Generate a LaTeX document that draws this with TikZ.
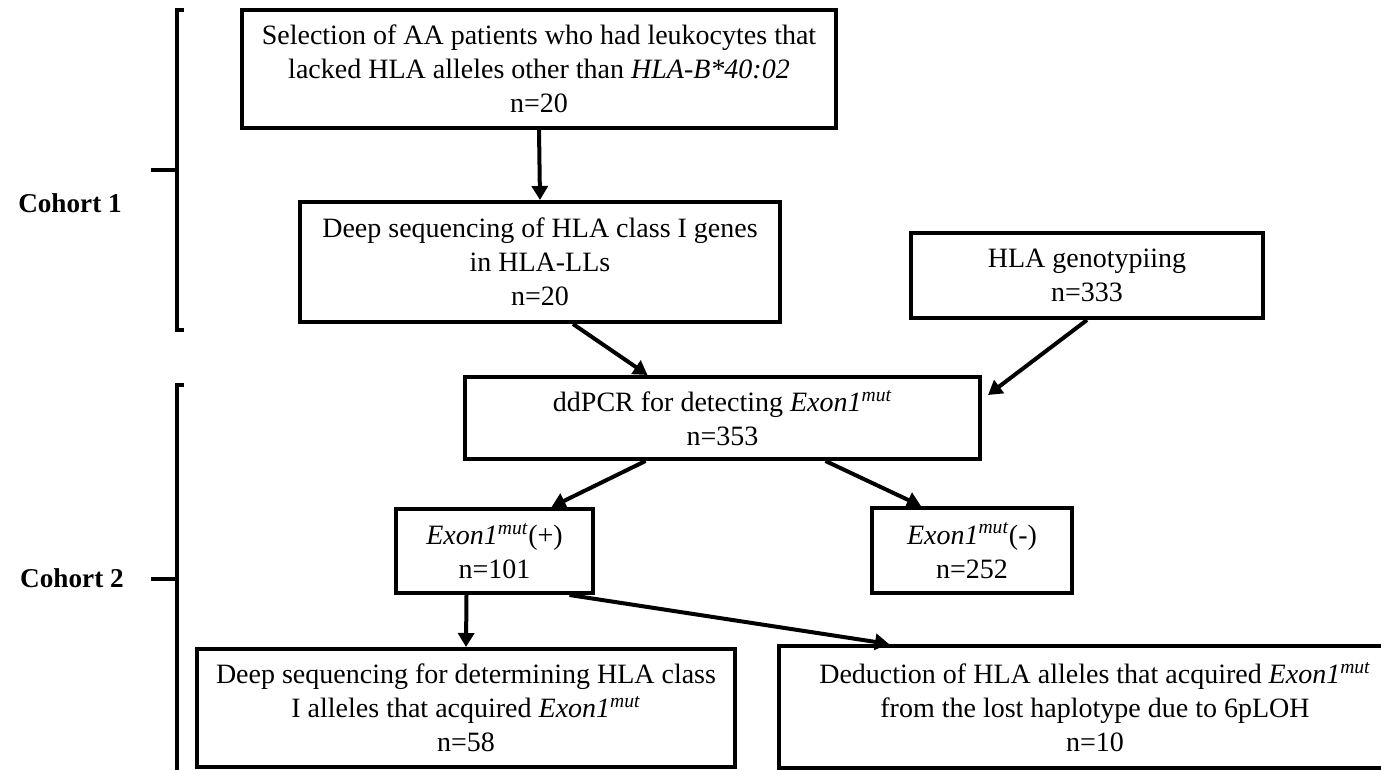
\documentclass[tikz,border=0pt]{standalone}
\usepackage{fontspec}
\setmainfont{Liberation Serif}
\usetikzlibrary{arrows.meta,calc}

\begin{document}
\begin{tikzpicture}[x=0.5pt, y=-0.5pt,
	box/.style={draw, line width=2pt, align=center, inner sep=0pt, font=\fontsize{14}{17}\selectfont},
	arrow/.style={line width=2pt, -{Triangle[length=7pt, width=8pt]}},
	bracket/.style={line width=2pt},
	cohort/.style={font=\fontsize{13.6}{16}\selectfont\bfseries}]
	\useasboundingbox (0,0) rectangle (1381,770);

	% Define nodes
	\node (select) [box, minimum width=297pt, minimum height=59pt] at (539,69)
		{Selection of AA patients who had leukocytes that\\lacked HLA alleles other than \textit{HLA-B*40:02}\\n=20};
	\node (deepseq) [box, minimum width=240pt, minimum height=60pt] at (540,262)
		{Deep sequencing of HLA class I genes\\in HLA-LLs\\n=20};
	\node (genotype) [box, minimum width=176pt, minimum height=42.5pt] at (1087,275.5)
		{HLA genotypiing\\n=333};
	\node (ddpcr) [box, minimum width=257.5pt, minimum height=41pt] at (722.5,418)
		{ddPCR for detecting \textit{Exon1\textsuperscript{mut}}\\n=353};
	\node (mutpos) [box, minimum width=98.5pt, minimum height=42pt] at (494.5,551)
		{\textit{Exon1\textsuperscript{mut}}(+)\\n=101};
	\node (mutneg) [box, minimum width=100pt, minimum height=42.5pt] at (972,550.5)
		{\textit{Exon1\textsuperscript{mut}}(-)\\n=252};
	\node (detseq) [box, minimum width=269pt, minimum height=59pt] at (466,708)
		{Deep sequencing for determining HLA class\\I alleles that acquired \textit{Exon1\textsuperscript{mut}}\\n=58};
	\node (deduct) [box, minimum width=316pt, minimum height=61pt] at (1095,707)
		{Deduction of HLA alleles that acquired \textit{Exon1\textsuperscript{mut}}\\from the lost haplotype due to 6pLOH\\n=10};

	\node (cohort1) [cohort] at (70,203) {Cohort 1};
	\node (cohort2) [cohort] at (72,578) {Cohort 2};

	% Brackets
	\draw[bracket] (184,10) -- (177,10) -- (177,330) -- (184,330);
	\draw[bracket] (151,170) -- (177,170);
	\draw[bracket] (184,385) -- (177,385) -- (177,775);
	\draw[bracket] (151,579) -- (177,579);

	% Draw edges
	\path[arrow]
	(select.south) edge (deepseq.north)
	($(deepseq.south)+(33,0)$) edge ($(ddpcr.north)+(-75,0)$)
	(genotype.south) edge ($(ddpcr.east)+(6,-23)$)
	($(ddpcr.south)+(-77,0)$) edge ($(mutpos.north)+(57,0)$)
	($(ddpcr.south)+(103,0)$) edge ($(mutneg.north)+(-51,0)$)
	($(mutpos.south)+(-28,0)$) edge (detseq.north)
	($(mutpos.south)+(75,0)$) edge ($(deduct.north)+(-206,0)$);
\end{tikzpicture}
\end{document}
